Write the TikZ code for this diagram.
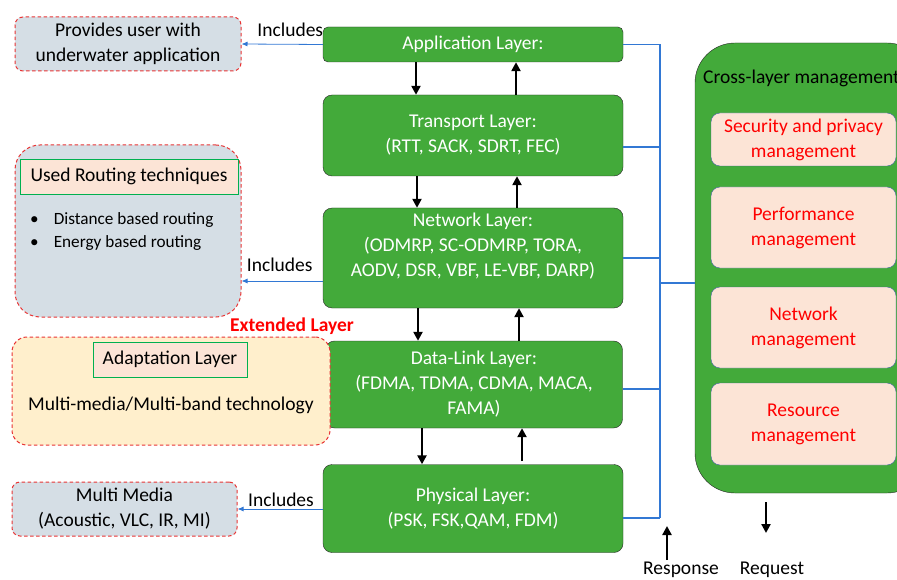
\documentclass[tikz,border=0pt]{standalone}
\usepackage{fontspec}
\setmainfont{Carlito}
\usetikzlibrary{arrows.meta}
\definecolor{layergreen}{RGB}{67,170,58}
\definecolor{boxgrey}{RGB}{213,222,229}
\definecolor{peach}{RGB}{252,228,214}
\definecolor{adaptyellow}{RGB}{255,239,204}
\definecolor{busblue}{RGB}{50,120,212}
\definecolor{dashred}{RGB}{232,52,52}
\definecolor{mgmtblue}{RGB}{60,95,160}
\definecolor{titlegreen}{RGB}{0,176,80}
\newcommand\lfont{\fontsize{19.5}{25}\selectfont}
\newcommand\sfont{\fontsize{17.2}{23}\selectfont}
\tikzset{
  layer/.style={draw=black!85, fill=layergreen, text=white, rounded corners=9pt, align=center, font=\lfont, inner sep=0pt},
  mgmt/.style={draw=mgmtblue, fill=peach, text=red, rounded corners=9pt, align=center, font=\lfont, minimum width=185, inner sep=0pt},
  side/.style={draw=dashred, line width=1pt, dash pattern=on 3.5pt off 2.5pt, fill=boxgrey, rounded corners=8pt, align=center, font=\lfont, inner sep=0pt},
  title/.style={draw=titlegreen, line width=0.9pt, fill=peach, font=\lfont, inner sep=0pt},
  flow/.style={line width=2.6pt, -{Triangle[length=9pt,width=9pt]}},
  bus/.style={busblue, line width=1.3pt},
  incl/.style={busblue, line width=0.8pt, -{Latex[length=6pt,width=5pt]}},
}

\begin{document}
\begin{tikzpicture}[x=1pt,y=-1pt]
	%%%%% START %%%%%
	\clip (0,0) rectangle (897,580);
	
	% protocol stack
	\node[layer, minimum width=300, minimum height=35, rounded corners=5pt] (app) at (473,44.5) {Application Layer:};
	\node[layer, minimum width=300, minimum height=81] (trans) at (473,135.5) {Transport Layer:\\(RTT, SACK, SDRT, FEC)};
	\node[layer, minimum width=300, minimum height=100] (net) at (473,258) {};
	\node[text=white, align=center, font=\lfont] (net-txt) at (473,246) {Network Layer:\\(ODMRP, SC-ODMRP, TORA,\\AODV, DSR, VBF, LE-VBF, DARP)};
	\node[layer, minimum width=297, minimum height=87] (dl) at (474,384.5) {Data-Link Layer:\\(FDMA, TDMA, CDMA, MACA,\\FAMA)};
	\node[layer, minimum width=300, minimum height=88] (phys) at (473,508.5) {Physical Layer:\\(PSK, FSK,QAM, FDM)};
	
	\draw[flow] (app.south -| 416,0) -- (trans.north -| 416,0);
	\draw[flow] (trans.north -| 516,0) -- (app.south -| 516,0);
	\draw[flow] (trans.south -| 417,0) -- (net.north -| 417,0);
	\draw[flow] (net.north -| 517,0) -- (trans.south -| 517,0);
	\draw[flow] (net.south -| 418,0) -- (dl.north -| 418,0);
	\draw[flow] (dl.north -| 519,0) -- (net.south -| 519,0);
	\draw[flow] (dl.south -| 422,0) -- (phys.north -| 422,0);
	\draw[flow] (522,461) -- (dl.south -| 522,0);
	
	% cross-layer management
	\node[draw=black!85, fill=layergreen, rounded corners=40pt, minimum width=232, minimum height=450, inner sep=0pt] (cross) at (811,268) {};
	\node[anchor=west, font=\lfont, inner sep=0pt] (cross-title) at (703,78) {Cross-layer management};
	\node[mgmt, minimum height=53] (sec) at (803.5,139.5) {Security and privacy\\management};
	\node[mgmt, minimum height=81] (perf) at (803.5,227.5) {Performance\\management};
	\node[mgmt, minimum height=81] (netm) at (803.5,327.5) {Network\\management};
	\node[mgmt, minimum height=82] (res) at (803.5,424) {Resource\\management};
	
	% blue bus
	\coordinate (trunk) at (660,44.5);
	\draw[bus] (app.east) -- (trunk);
	\draw[bus] (trans.east |- 0,147) -- (trunk |- 0,147);
	\draw[bus] (net.east) -- (trunk |- net.east);
	\draw[bus] (dl.east |- 0,389) -- (trunk |- 0,389);
	\draw[bus] (phys.east |- 0,518) -- (trunk |- 0,518);
	\draw[bus] (trunk) -- (trunk |- 0,518);
	\draw[bus] (trunk |- 0,283) -- (cross.west |- 0,283);
	
	% response / request
	\node[font=\lfont, inner sep=0pt] (resp) at (681,570) {Response};
	\node[font=\lfont, inner sep=0pt] (req) at (772,570) {Request};
	\coordinate (resp-tail) at (667,560);
	\coordinate (resp-tip) at (667,526);
	\coordinate (req-tail) at (766,502);
	\coordinate (req-tip) at (766,533);
	\draw[flow] (resp-tail) -- (resp-tip);
	\draw[flow] (req-tail) -- (req-tip);
	
	% side boxes
	\node[side, minimum width=226, minimum height=54] (prov) at (128,44) {Provides user with\\underwater application};
	\draw[incl] (app.west) -- (prov.east) node[pos=0.4, above=7pt, text=black, font=\lfont, inner sep=0pt] (incl-app) {Includes};
	
	\node[side, minimum width=226, minimum height=172, rounded corners=25pt] (route) at (128,231) {};
	\node[title, minimum width=218, minimum height=35] (route-title) at (129,176.5) {Used Routing techniques};
	\node[anchor=west, align=left, font=\sfont, inner sep=0pt] (route-list) at (30,231.5) {\textbullet\hspace{15pt}Distance based routing\\\textbullet\hspace{15pt}Energy based routing};
	\draw[incl] (net.west |- 0,281) -- (route.east |- 0,281) node[pos=0.53, above=9pt, text=black, font=\lfont, inner sep=0pt] (incl-net) {Includes};
	
	\node[text=red, font=\lfont\bfseries, inner sep=0pt] (ext) at (292,326) {Extended Layer};
	\node[side, fill=adaptyellow, minimum width=318, minimum height=108, rounded corners=15pt] (adapt) at (171,391) {};
	\node[title, minimum width=154, minimum height=35] (adapt-title) at (170,359.5) {Adaptation Layer};
	\node[font=\lfont, inner sep=0pt] (adapt-txt) at (171,405) {Multi-media/Multi-band technology};
	
	\node[side, minimum width=225, minimum height=54] (media) at (124.5,509) {Multi Media\\(Acoustic, VLC, IR, MI)};
	\draw[incl] (phys.west |- 0,509) -- (media.east |- 0,509) node[pos=0.49, above=2pt, text=black, font=\lfont, inner sep=0pt] (incl-phys) {Includes};
	
	%%%%% END %%%%%
\end{tikzpicture}
\end{document}
